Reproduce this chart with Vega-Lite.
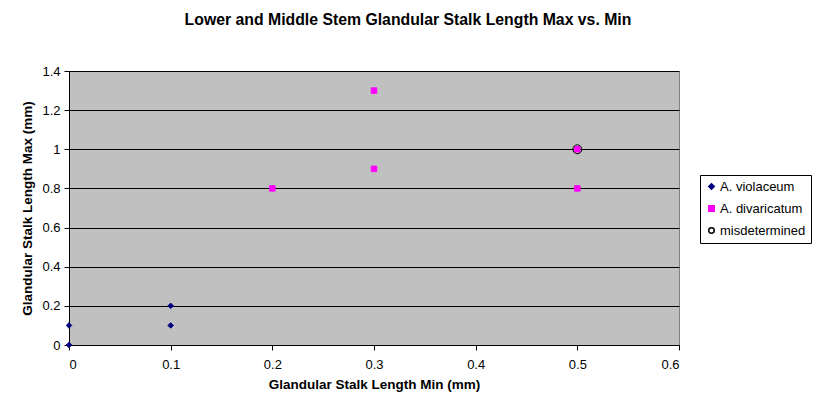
{
  "$schema": "https://vega.github.io/schema/vega-lite/v6.json",
  "width": 610,
  "height": 274,
  "autosize": {"type": "none"},
  "padding": {"left": 69, "top": 71, "right": 135, "bottom": 70},
  "background": "white",
  "title": {
    "text": "Lower and Middle Stem Glandular Stalk Length Max vs. Min",
    "anchor": "middle",
    "dx": 34,
    "offset": 36,
    "font": "Liberation Sans",
    "fontSize": 15.8,
    "fontWeight": "bold",
    "color": "black"
  },
  "data": {
    "values": [
      {"series": "A. violaceum", "min": 0, "max": 0},
      {"series": "A. violaceum", "min": 0, "max": 0.1},
      {"series": "A. violaceum", "min": 0.1, "max": 0.1},
      {"series": "A. violaceum", "min": 0.1, "max": 0.2},
      {"series": "A. divaricatum", "min": 0.2, "max": 0.8},
      {"series": "A. divaricatum", "min": 0.3, "max": 1.3},
      {"series": "A. divaricatum", "min": 0.3, "max": 0.9},
      {"series": "A. divaricatum", "min": 0.5, "max": 1.0},
      {"series": "A. divaricatum", "min": 0.5, "max": 0.8},
      {"series": "misdetermined", "min": 0.5, "max": 1.0}
    ]
  },
  "encoding": {
    "x": {
      "field": "min",
      "type": "quantitative",
      "title": "Glandular Stalk Length Min (mm)",
      "scale": {"domain": [0, 0.6], "nice": false},
      "axis": {"values": [0, 0.1, 0.2, 0.3, 0.4, 0.5, 0.6], "format": "~g", "grid": false, "labelPadding": 8, "titlePadding": 6}
    },
    "y": {
      "field": "max",
      "type": "quantitative",
      "title": "Glandular Stalk Length Max (mm)",
      "scale": {"domain": [0, 1.4], "nice": false},
      "axis": {"values": [0, 0.2, 0.4, 0.6, 0.8, 1, 1.2, 1.4], "format": "~g", "grid": true, "labelPadding": 4, "titlePadding": 7}
    },
    "fill": {
      "field": "series",
      "type": "nominal",
      "title": null,
      "scale": {"domain": ["A. violaceum", "A. divaricatum", "misdetermined"], "range": ["#000080", "#FF00FF", "transparent"]}
    },
    "stroke": {
      "field": "series",
      "type": "nominal",
      "title": null,
      "scale": {"domain": ["A. violaceum", "A. divaricatum", "misdetermined"], "range": ["#000080", "#FF00FF", "black"]}
    },
    "shape": {
      "field": "series",
      "type": "nominal",
      "title": null,
      "scale": {"domain": ["A. violaceum", "A. divaricatum", "misdetermined"], "range": ["diamond", "square", "circle"]}
    }
  },
  "layer": [
    {
      "transform": [{"filter": "datum.series != 'misdetermined'"}],
      "mark": {"type": "point", "filled": false, "strokeWidth": 1, "opacity": 1, "size": 30}
    },
    {
      "transform": [{"filter": "datum.series == 'misdetermined'"}],
      "mark": {"type": "point", "filled": false, "strokeWidth": 1, "opacity": 1, "size": 80}
    }
  ],
  "config": {
    "view": {"fill": "#C0C0C0", "stroke": "#808080", "strokeWidth": 1},
    "axis": {
      "domainColor": "black",
      "tickColor": "black",
      "gridColor": "black",
      "gridOpacity": 1,
      "tickSize": 5,
      "labelFont": "Liberation Sans",
      "labelFontSize": 13,
      "labelColor": "black",
      "titleFont": "Liberation Sans",
      "titleFontSize": 13.5,
      "titleFontWeight": "bold",
      "titleColor": "black"
    },
    "legend": {
      "orient": "none",
      "legendX": 631,
      "legendY": 104,
      "strokeColor": "black",
      "fillColor": "white",
      "padding": 5,
      "labelFont": "Liberation Sans",
      "labelFontSize": 13,
      "labelColor": "black",
      "symbolSize": 30,
      "rowPadding": 8,
      "labelOffset": 2
    }
  }
}
